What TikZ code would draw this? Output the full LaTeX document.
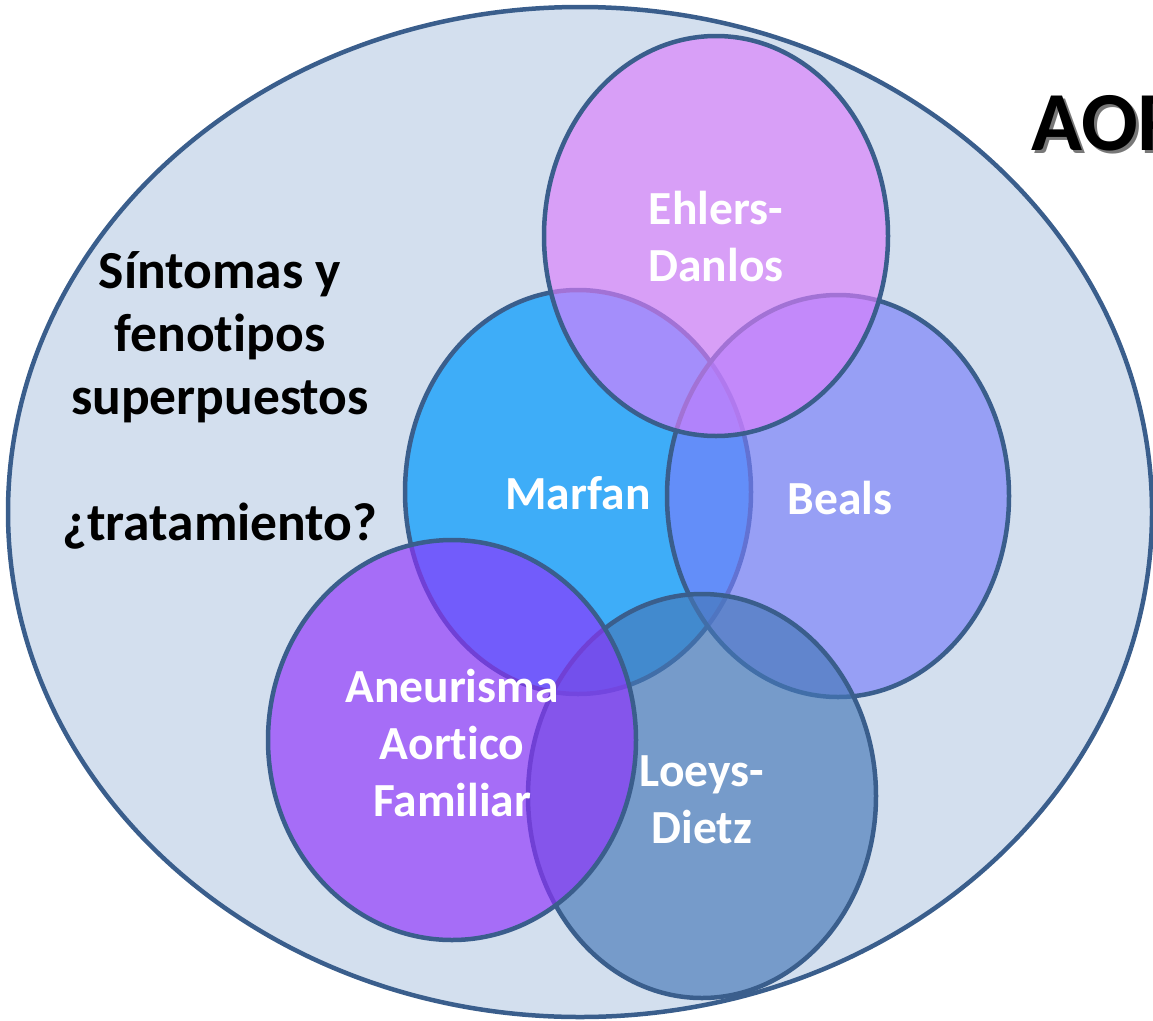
\documentclass[tikz,border=0pt]{standalone}
\usepackage{fontspec}
\setmainfont[Ligatures=NoCommon]{Carlito}
\definecolor{bgfill}{RGB}{211,223,238}
\definecolor{edge}{RGB}{58,94,140}
\definecolor{cmarfan}{RGB}{62,173,248}
\definecolor{cbeals}{RGB}{120,126,250}
\definecolor{cehlers}{RGB}{219,126,253}
\definecolor{cloeys}{RGB}{69,120,184}
\definecolor{caneur}{RGB}{142,49,253}
\definecolor{shadowgray}{RGB}{120,120,120}
\tikzset{
  setbox/.style={draw=edge, line width=4.5pt},
  overlay set/.style={setbox, fill opacity=0.65, draw opacity=1},
  whitetext/.style={text=white, align=center, font=\bfseries\fontsize{47.5}{57}\selectfont},
  blacktext/.style={text=black, align=center, font=\bfseries\fontsize{53.5}{63}\selectfont},
}
\begin{document}
\begin{tikzpicture}[x=1pt,y=-1pt]
\useasboundingbox (0,0) rectangle (1153,1020);
\begin{scope}
\clip (0,0) rectangle (1153,1020);
\path[setbox, fill=bgfill] (580,512) ellipse [x radius=572, y radius=505];
\path[setbox, fill=cmarfan] (578,492) ellipse [x radius=173, y radius=202];
\path[overlay set, fill=cbeals] (838,496) ellipse [x radius=171, y radius=201];
\path[overlay set, fill=cehlers] (716,236) ellipse [x radius=172, y radius=200];
\path[overlay set, fill=cloeys] (702,796) ellipse [x radius=174, y radius=202];
\path[overlay set, fill=caneur] (452,740) ellipse [x radius=184, y radius=200];
\node[anchor=west, text=black, font=\bfseries\fontsize{84}{84}\selectfont, inner sep=0pt] (title) at (1031,125)
  {\makebox[0pt][l]{\hspace{3pt}\raisebox{-3pt}{\textcolor{shadowgray}{AOR}}}AOR};
\end{scope}
\node[blacktext] (leftlabel) at (220,400) {Síntomas y\\fenotipos\\superpuestos\\[63pt]¿tratamiento?};
\node[whitetext] (ehlers) at (716,237) {Ehlers-\\Danlos};
\node[whitetext] (marfan) at (578,493) {Marfan};
\node[whitetext] (beals) at (840,498) {Beals};
\node[whitetext] (aneur) at (452,743) {Aneurisma\\Aortico\\Familiar};
\node[whitetext] (loeys) at (702,800) {Loeys-\\Dietz};
\end{tikzpicture}
\end{document}
